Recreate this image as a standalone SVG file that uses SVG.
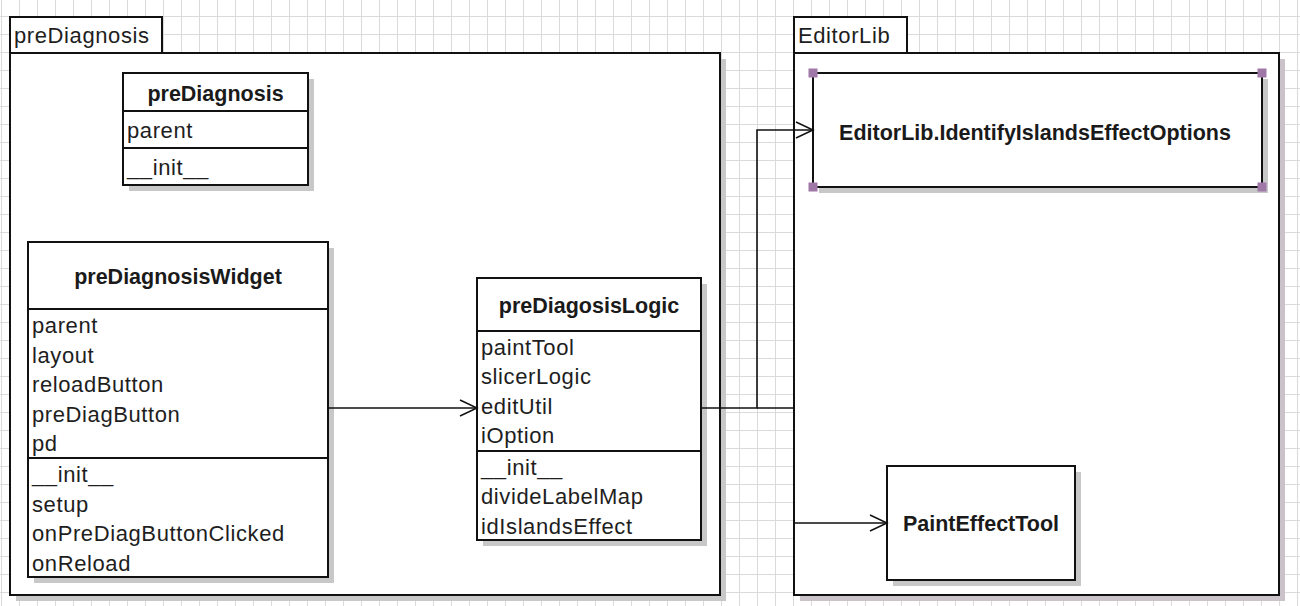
<svg xmlns="http://www.w3.org/2000/svg" width="1300" height="606" viewBox="0 0 1300 606">
<style>
.box{fill:#fff;stroke:#111;stroke-width:2}
.sh{fill:#c8c8c8}
.div{stroke:#111;stroke-width:2;fill:none}
.t{font-family:"Liberation Sans",Arial,sans-serif;font-size:22px;fill:#1e1e1e;letter-spacing:0.6px}
.b{font-family:"Liberation Sans",Arial,sans-serif;font-size:21.5px;font-weight:bold;fill:#1a1a1a;text-anchor:middle}
.conn{stroke:#111;stroke-width:1.6;fill:none}
.hd{fill:#9f78a8}
</style>
<defs>
<pattern id="grid" patternUnits="userSpaceOnUse" x="1" y="16" width="18" height="18">
<path d="M0,0.5 H18 M0.5,0 V18" stroke="#dadada" stroke-width="1" fill="none"/>
</pattern>
<marker id="open" markerUnits="userSpaceOnUse" markerWidth="22" markerHeight="22" refX="18" refY="10" orient="auto">
<path d="M1,2 L18,10 L1,18" fill="none" stroke="#111" stroke-width="1.5"/>
</marker>
</defs>
<rect x="0" y="0" width="1300" height="606" fill="#fff"/>
<rect x="0" y="0" width="1300" height="606" fill="url(#grid)"/>

<g id="pkg-preDiagnosis">
<rect class="sh" x="16" y="59" width="710" height="542"/>
<rect class="box" x="10" y="17" width="152" height="36"/>
<rect class="box" x="10" y="53" width="710" height="542"/>
<text class="t" x="14" y="43">preDiagnosis</text>
</g>

<g id="pkg-EditorLib">
<rect class="sh" x="800" y="59" width="485" height="542" style="fill:#cac4ca"/>
<rect class="box" x="794" y="17" width="113" height="36"/>
<rect class="box" x="794" y="53" width="485" height="542"/>
<text class="t" x="798" y="43">EditorLib</text>
</g>

<g id="cls-preDiagnosis">
<rect class="sh" x="129" y="79" width="185" height="112"/>
<rect class="box" x="123" y="73" width="185" height="112"/>
<path class="div" d="M123,111 H308 M123,148 H308"/>
<text class="b" x="215.5" y="101">preDiagnosis</text>
<text class="t" x="127" y="138">parent</text>
<text class="t" x="127" y="175">__init__</text>
</g>

<g id="cls-preDiagnosisWidget">
<rect class="sh" x="34" y="248" width="300" height="335"/>
<rect class="box" x="28" y="242" width="300" height="335"/>
<path class="div" d="M28,309 H328 M28,458 H328"/>
<text class="b" x="178" y="284">preDiagnosisWidget</text>
<text class="t" x="32" y="333">parent</text>
<text class="t" x="32" y="362.5">layout</text>
<text class="t" x="32" y="392">reloadButton</text>
<text class="t" x="32" y="421.5">preDiagButton</text>
<text class="t" x="32" y="451">pd</text>
<text class="t" x="32" y="482">__init__</text>
<text class="t" x="32" y="511.5">setup</text>
<text class="t" x="32" y="541">onPreDiagButtonClicked</text>
<text class="t" x="32" y="570.5">onReload</text>
</g>

<g id="cls-preDiagosisLogic">
<rect class="sh" x="483" y="284" width="224" height="262"/>
<rect class="box" x="477" y="278" width="224" height="262"/>
<path class="div" d="M477,331 H701 M477,451 H701"/>
<text class="b" x="589" y="312.5">preDiagosisLogic</text>
<text class="t" x="481" y="354.5">paintTool</text>
<text class="t" x="481" y="384">slicerLogic</text>
<text class="t" x="481" y="413.5">editUtil</text>
<text class="t" x="481" y="443">iOption</text>
<text class="t" x="481" y="474.5">__init__</text>
<text class="t" x="481" y="504">divideLabelMap</text>
<text class="t" x="481" y="533.5">idIslandsEffect</text>
</g>

<g id="cls-IdentifyIslandsEffectOptions">
<rect class="sh" x="819" y="79" width="449" height="114"/>
<rect class="box" x="813" y="73" width="449" height="114"/>
<text class="b" x="1035" y="139.5">EditorLib.IdentifyIslandsEffectOptions</text>
<rect class="hd" x="808.5" y="68.5" width="9" height="9"/>
<rect class="hd" x="1257.5" y="68.5" width="9" height="9"/>
<rect class="hd" x="808.5" y="182.5" width="9" height="9"/>
<rect class="hd" x="1257.5" y="182.5" width="9" height="9"/>
</g>

<g id="cls-PaintEffectTool">
<rect class="sh" x="893" y="472" width="188" height="114"/>
<rect class="box" x="887" y="466" width="188" height="114"/>
<text class="b" x="981" y="531">PaintEffectTool</text>
</g>

<g id="connectors">
<path class="conn" d="M328,408 H477" marker-end="url(#open)"/>
<path class="conn" d="M701,408 H757 V130 H813" marker-end="url(#open)"/>
<path class="conn" d="M757,408 H794 V523 H887" marker-end="url(#open)"/>
</g>
</svg>
